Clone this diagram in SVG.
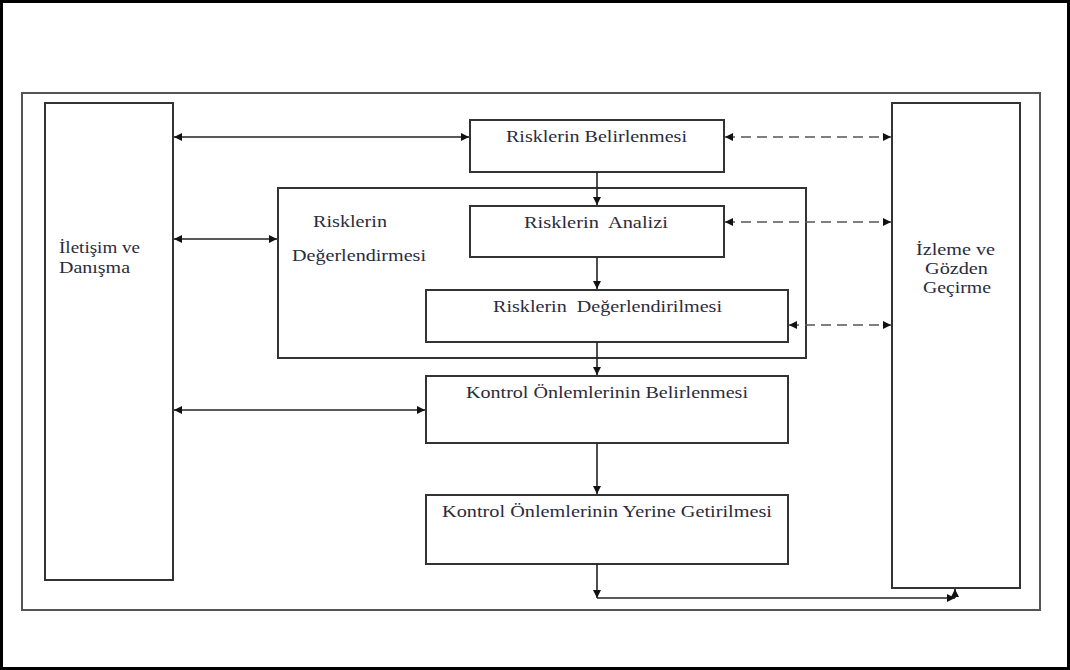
<svg xmlns="http://www.w3.org/2000/svg" width="1070" height="670" viewBox="0 0 1070 670">
<defs>
<style>
.box{fill:#fff;stroke:#333;stroke-width:2}
.frame{fill:none;stroke:#555;stroke-width:2}
text{font-family:'Liberation Serif','Times New Roman',serif;font-size:17px;fill:#2b2b3b}
.ln{fill:none;stroke:#222;stroke-width:1.6}
.ds{fill:none;stroke:#555;stroke-width:1.6;stroke-dasharray:10,6}
</style>
<marker id="ah" viewBox="0 0 10 10" refX="10" refY="5" markerWidth="8" markerHeight="8" markerUnits="userSpaceOnUse" orient="auto-start-reverse">
<path d="M0,0 L10,5 L0,10 z" fill="#111"/>
</marker>
</defs>
<rect x="1.5" y="1.5" width="1067" height="667" fill="#fff" stroke="#000" stroke-width="3"/>
<rect class="frame" x="22" y="93" width="1018" height="517"/>

<g id="iletisim">
<rect class="box" x="45" y="103" width="128" height="477"/>
<text x="59" y="253" textLength="81" lengthAdjust="spacingAndGlyphs">İletişim ve</text>
<text x="59" y="273" textLength="71" lengthAdjust="spacingAndGlyphs">Danışma</text>
</g>
<g id="izleme">
<rect class="box" x="892" y="103" width="128" height="485"/>
<text x="916" y="255" textLength="79" lengthAdjust="spacingAndGlyphs">İzleme ve</text>
<text x="925" y="274" textLength="63" lengthAdjust="spacingAndGlyphs">Gözden</text>
<text x="923" y="293" textLength="68" lengthAdjust="spacingAndGlyphs">Geçirme</text>
</g>
<g id="degerlendirmesi">
<rect class="box" x="278" y="188" width="528" height="170"/>
<text x="313" y="227" textLength="74" lengthAdjust="spacingAndGlyphs">Risklerin</text>
<text x="292" y="261" textLength="134" lengthAdjust="spacingAndGlyphs">Değerlendirmesi</text>
</g>
<g id="belirlenmesi">
<rect class="box" x="470" y="120" width="254" height="52"/>
<text x="506" y="142" textLength="181" lengthAdjust="spacingAndGlyphs">Risklerin Belirlenmesi</text>
</g>
<g id="analizi">
<rect class="box" x="470" y="206" width="254" height="51"/>
<text x="524" y="228" textLength="144" lengthAdjust="spacingAndGlyphs" xml:space="preserve">Risklerin  Analizi</text>
</g>
<g id="degerlendirilmesi">
<rect class="box" x="426" y="290" width="362" height="52"/>
<text x="493" y="312" textLength="229" lengthAdjust="spacingAndGlyphs" xml:space="preserve">Risklerin  Değerlendirilmesi</text>
</g>
<g id="kontrolBelirlenmesi">
<rect class="box" x="426" y="376" width="362" height="67"/>
<text x="466" y="398" textLength="282" lengthAdjust="spacingAndGlyphs">Kontrol Önlemlerinin Belirlenmesi</text>
</g>
<g id="kontrolYerine">
<rect class="box" x="426" y="495" width="362" height="69"/>
<text x="442" y="517" textLength="330" lengthAdjust="spacingAndGlyphs">Kontrol Önlemlerinin Yerine Getirilmesi</text>
</g>

<g id="connectors">
<line class="ln" x1="174" y1="137" x2="469" y2="137" marker-start="url(#ah)" marker-end="url(#ah)"/>
<line class="ds" x1="725" y1="137" x2="891" y2="137" marker-start="url(#ah)" marker-end="url(#ah)"/>
<line class="ds" x1="725" y1="222" x2="891" y2="222" marker-start="url(#ah)" marker-end="url(#ah)"/>
<line class="ds" x1="789" y1="325" x2="891" y2="325" marker-start="url(#ah)" marker-end="url(#ah)"/>
<line class="ln" x1="174" y1="239" x2="277" y2="239" marker-start="url(#ah)" marker-end="url(#ah)"/>
<line class="ln" x1="174" y1="410" x2="425" y2="410" marker-start="url(#ah)" marker-end="url(#ah)"/>
<line class="ln" x1="597" y1="172" x2="597" y2="205" marker-end="url(#ah)"/>
<line class="ln" x1="597" y1="257" x2="597" y2="289" marker-end="url(#ah)"/>
<line class="ln" x1="597" y1="342" x2="597" y2="375" marker-end="url(#ah)"/>
<line class="ln" x1="597" y1="443" x2="597" y2="494" marker-end="url(#ah)"/>
<line class="ln" x1="597" y1="564" x2="597" y2="598" marker-end="url(#ah)"/>
<line class="ln" x1="597" y1="598" x2="955" y2="598" marker-end="url(#ah)"/>
<line class="ln" x1="955" y1="598" x2="955" y2="589" marker-end="url(#ah)" stroke="#666"/>
</g>
</svg>
